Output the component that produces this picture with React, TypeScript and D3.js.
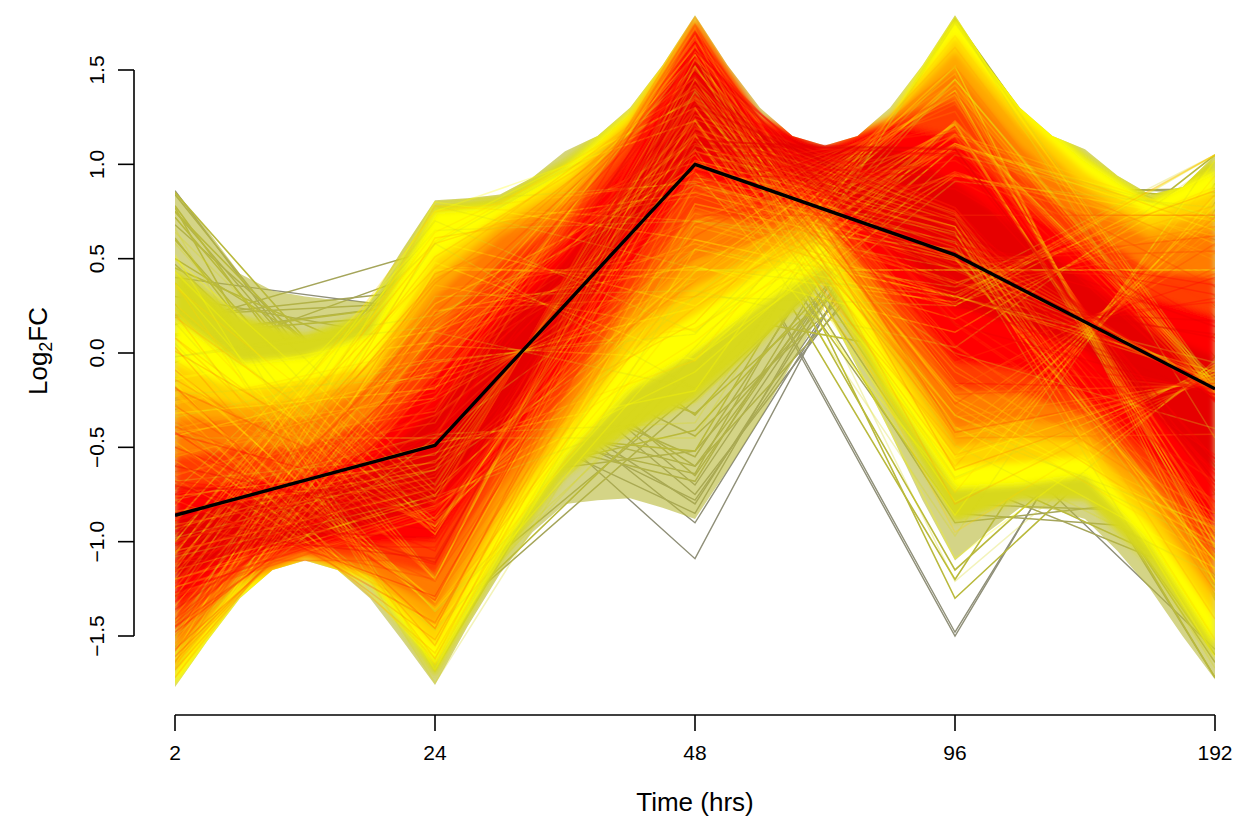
import React from "react";
import * as d3 from "d3";

// The bundle is far too dense to read single lines: each row below is a hand estimate
// [2h, 24h, 48h, 96h, 192h] chosen to reproduce the envelope and colour bands of the picture.
const timeLabels = ["2", "24", "48", "96", "192"];
const yTicks = [-1.5, -1, -0.5, 0, 0.5, 1, 1.5];
const yTickLabels = ["\u22121.5", "\u22121.0", "\u22120.5", "0.0", "0.5", "1.0", "1.5"];
const meanLine = [-0.86, -0.49, 1.0, 0.52, -0.19];

const greyLines = [
  [-0.75,0.15,-1.09,1.5,0.19],[-0.9,0.2,-0.9,1.3,0.3],[-0.7,-0.2,-0.85,1.5,0.25],[-1.0,0.1,-0.8,1.35,0.35],
  [-1.2,-0.1,-0.78,1.2,0.7],[-0.2,-0.1,1.0,-1.5,0.8],[-0.25,-0.05,1.02,-1.48,0.76],[-0.85,0.45,-0.7,1.35,-0.25],
  [0.4,0.22,1.2,-0.25,-1.57],[-1.3,0.4,-0.75,1.05,0.6],[0.86,-0.98,0.9,0.4,-1.18],
];
const greyOliveLines = [
  [-0.63,-0.34,-0.64,1.76,-0.14],[0.19,0.34,0.72,0.51,-1.72],[0.84,-0.87,0.76,0.55,-1.3],[0.2,0.27,1.4,-0.66,-1.22],
  [-0.15,0.08,-0.13,1.51,-1.31],[0.47,-0.82,0.08,1.37,-1.1],[0.26,-1.35,-0.2,1.44,-0.15],[-0.96,-0.69,-0.52,1.05,0.72],
  [-0.86,0.62,-0.12,1.17,-0.97],[-1.51,0.24,-0.44,0.85,0.87],[-0.18,-1.46,-0.25,1.05,0.72],
  [-0.5,-0.35,-0.68,1.55,-0.02],[-0.6,0.5,-0.65,1.35,-0.6],[-1.45,0.3,-0.6,0.9,0.85],[-1.05,-0.25,-0.6,1.25,0.65],
  [-0.3,0.05,-0.55,1.55,-0.75],[0.1,0.27,0.85,0.42,-1.64],[0.75,-0.85,1.05,0.25,-1.2],[0.68,-0.55,1.15,-0.05,-1.23],
  [0.15,0.55,1.1,-0.85,-0.95],[0.3,0.05,1.3,-0.8,-0.85],[-0.05,0.45,1.25,-0.9,-0.75],
];
const oliveLines = [
  [-0.7,-0.39,-0.52,1.77,-0.16],[0.09,0.27,0.81,0.56,-1.72],[-0.24,0.02,-0.02,1.53,-1.29],[0.1,0.21,1.47,-0.58,-1.21],
  [-1.02,-0.73,-0.41,1.1,0.7],[0.72,-0.9,0.84,0.59,-1.28],[-1.64,0.38,0.22,-0.03,1.05],[-0.93,0.62,-0.01,1.2,-1.04],
  [-1.56,0.18,-0.32,0.89,0.83],[0.37,-0.86,0.18,1.39,-1.09],[-0.27,-1.47,-0.14,1.08,0.72],[-1.42,0.67,-0.33,1.22,-0.11],
  [-0.13,-0.08,1.52,-1.3,-0.02],[0.77,-1.68,0.61,0.4,-0.12],[0.61,-1.16,1.33,-0.73,-0.07],[0.75,-0.66,1.32,-0.39,-1.03],
  [-0.55,-0.25,1.1,-1.2,0.9],[-0.4,0.2,1.25,-1.15,0.1],[0.6,-0.95,0.8,0.75,-1.2],[0.5,-0.35,1.25,-0.15,-1.25],
  [0.85,-0.7,0.95,0.1,-1.2],[0.78,-1.1,0.55,0.85,-1.08],[0.45,-0.15,0.95,0.35,-1.6],
];
const oliveYellowLines = [
  [-0.78,-0.43,-0.37,1.75,-0.17],[-1.5,0.78,0.45,0.3,-0.05],[-0.98,-0.62,0.3,0.25,1.05],[-0.02,0.2,0.89,0.59,-1.67],
  [-1.47,0.58,-0.19,1.22,-0.13],[0.05,-1.37,0.03,1.45,-0.18],[-0.34,-0.04,0.1,1.52,-1.26],[-0.02,0.14,1.52,-0.49,-1.18],
  [-1.08,-0.76,-0.26,1.05,0.72],[-0.9,0.65,0.7,0.55,-1.1],[0.58,-0.92,0.93,0.63,-1.25],[-1.68,0.3,0.33,0.03,1.01],
  [-1.0,0.7,0.11,1.21,-1.02],[-1.6,0.11,-0.19,0.91,0.77],[0.24,-0.88,0.3,1.39,-1.07],[-0.73,0.58,1.35,-0.4,-0.92],
  [-0.37,-1.47,-0.01,1.09,0.72],[-0.22,-0.13,1.58,-1.21,-0.04],[0.66,-1.69,0.7,0.45,-0.14],[0.5,-1.19,1.39,-0.66,-0.09],
  [0.16,-1.37,-0.09,1.45,-0.16],[-0.68,-0.54,1.08,-0.97,1.05],[0.64,-0.7,1.38,-0.33,-1.03],
  [-0.45,-0.45,-0.45,1.78,-0.45],[0.44,-1.75,0.44,0.44,0.44],[-1.5,-0.45,0.55,0.35,1.05],[-1.3,0.8,0.9,0.0,-0.4],
];
const yellowLines = [
  [-0.86,-0.48,-0.2,1.73,-0.19],[-1.6,0.8,0.6,0.3,-0.1],[-1.05,-0.72,0.45,0.27,1.05],[-0.14,0.12,0.99,0.64,-1.61],
  [-1.51,0.48,-0.04,1.23,-0.15],[-0.08,-1.36,0.18,1.45,-0.2],[-0.44,-0.1,0.24,1.52,-1.22],[-0.13,0.06,1.58,-0.39,-1.14],
  [-1.15,-0.78,-0.1,1.1,0.72],[-1.0,0.65,0.85,0.5,-1.1],[0.43,-0.94,1.02,0.67,-1.21],[-1.71,0.22,0.46,0.11,0.93],
  [-1.06,0.59,0.25,1.22,-0.99],[-1.63,0.04,-0.03,0.94,0.7],[0.11,-0.9,0.43,1.39,-1.03],[-0.81,0.65,1.34,-0.33,-0.93],
  [-0.47,-1.45,0.14,1.11,0.65],[-0.32,-0.19,1.63,-1.09,-0.07],[0.52,-1.68,0.79,0.49,-0.16],[0.37,-1.2,1.45,-0.56,-0.11],
  [-1.15,0.75,1.23,-0.79,-0.06],[-0.76,-0.58,1.16,-0.86,1.02],[-0.16,-1.64,0.55,0.25,0.96],[-0.1,-1.32,1.15,-0.55,0.78],
  [0.5,-0.73,1.45,-0.25,-1.01],[-1.34,0.26,0.96,-0.73,0.83],[-1.75,0.44,0.44,0.44,0.44],
];
const goldLines = [
  [-0.93,-0.53,-0.04,1.68,-0.21],[-1.67,0.78,0.7,0.3,-0.13],[-1.2,-0.75,0.6,0.3,1.05],[-0.27,0.03,1.07,0.67,-1.52],
  [-1.54,0.36,0.12,1.22,-0.17],[-0.21,-1.35,0.32,1.42,-0.21],[-0.55,-0.18,0.38,1.48,-1.16],[-0.26,-0.03,1.62,-0.28,-1.09],
  [-1.2,-0.81,0.06,1.16,0.7],[-1.07,0.75,0.91,0.51,-1.1],[0.26,-0.96,1.1,0.7,-1.15],[-1.72,0.12,0.58,0.18,0.83],
  [-1.12,0.46,0.39,1.21,-0.95],[-1.65,-0.05,0.13,0.95,0.62],[-0.04,-0.92,0.55,1.37,-0.99],[-0.89,0.59,1.4,-0.23,-0.9],
  [-0.57,-1.43,0.28,1.11,0.58],[-0.42,-0.24,1.68,-0.95,-0.09],[0.37,-1.65,0.89,0.54,-0.17],[0.23,-1.2,1.52,-0.45,-0.13],
  [-1.2,0.64,1.3,-0.67,-0.08],[-0.84,-0.62,1.24,-0.74,0.94],[-0.28,-1.62,0.67,0.32,0.88],[-0.22,-1.31,1.23,-0.44,0.71],
  [0.35,-0.76,1.51,-0.16,-0.98],[-1.39,0.18,1.05,-0.61,0.75],
];
const amberLines = [
  [-1.0,-0.57,0.16,1.62,-0.22],[-1.67,0.61,0.83,0.38,-0.15],[-1.24,-0.87,0.74,0.29,1.05],[-0.4,-0.07,1.16,0.71,-1.41],
  [-1.55,0.23,0.3,1.21,-0.19],[-0.35,-1.31,0.48,1.39,-0.23],[-0.65,-0.25,0.53,1.44,-1.08],[-0.4,-0.12,1.66,-0.15,-1.02],
  [-1.24,-0.82,0.24,1.15,0.66],[-1.13,0.58,1.01,0.56,-1.03],[0.08,-0.96,1.19,0.74,-1.08],[-1.72,0.02,0.71,0.26,0.72],
  [-1.17,0.33,0.54,1.19,-0.89],[-1.65,-0.14,0.3,0.96,0.52],[-0.2,-0.92,0.69,1.34,-0.93],[-0.97,0.45,1.46,-0.1,-0.85],
  [-0.67,-1.39,0.44,1.1,0.49],[-0.53,-0.31,1.72,-0.8,-0.11],[0.21,-1.62,0.98,0.58,-0.19],[0.08,-1.2,1.56,-0.34,-0.15],
  [-1.25,0.51,1.36,-0.54,-0.11],[-0.91,-0.66,1.3,-0.6,0.84],[-0.39,-1.59,0.77,0.37,0.78],[-0.34,-1.3,1.29,-0.33,0.63],
  [0.19,-0.79,1.55,-0.07,-0.94],[-1.42,0.08,1.13,-0.49,0.67],
];
const orangeLines = [
  [-1.07,-0.6,0.38,1.52,-0.24],[-1.64,0.42,0.95,0.44,-0.18],[-1.27,-0.87,0.88,0.37,0.86],[-0.55,-0.17,1.24,0.73,-1.26],
  [-1.54,0.09,0.5,1.16,-0.21],[-0.5,-1.25,0.65,1.32,-0.24],[-0.77,-0.33,0.7,1.37,-0.98],[-0.54,-0.21,1.67,-0.01,-0.93],
  [-1.28,-0.83,0.45,1.11,0.53],[-1.17,0.39,1.11,0.6,-0.94],[-0.14,-0.94,1.26,0.75,-0.97],[-1.68,-0.1,0.86,0.35,0.57],
  [-1.22,0.17,0.71,1.15,-0.82],[-1.63,-0.23,0.5,0.95,0.41],[-0.37,-0.91,0.83,1.28,-0.85],[-1.04,0.27,1.5,0.03,-0.78],
  [-0.78,-1.31,0.62,1.07,0.38],[-0.64,-0.37,1.74,-0.62,-0.14],[0.03,-1.55,1.07,0.62,-0.21],[-0.09,-1.17,1.6,-0.21,-0.17],
  [-1.29,0.37,1.42,-0.39,-0.13],[-0.99,-0.69,1.37,-0.44,0.72],[-0.51,-1.52,0.89,0.44,0.67],[-0.47,-1.27,1.36,-0.19,0.53],
  [0.01,-0.8,1.6,0.04,-0.88],[-1.44,-0.02,1.21,-0.34,0.57],[-0.45,-0.45,1.78,-0.45,-0.43],
];
const redOrangeLines = [
  [-1.12,-0.64,0.62,1.38,-0.25],[-1.58,0.17,1.07,0.52,-0.2],[-1.29,-0.85,1.02,0.47,0.62],[-0.71,-0.29,1.3,0.75,-1.06],
  [-1.5,-0.09,0.71,1.09,-0.22],[-0.68,-1.14,0.84,1.22,-0.25],[-0.89,-0.42,0.87,1.26,-0.84],[-0.71,-0.33,1.64,0.16,-0.79],
  [-1.29,-0.81,0.68,1.06,0.35],[-1.21,0.15,1.2,0.65,-0.8],[-0.39,-0.9,1.32,0.77,-0.83],[-1.61,-0.24,1.0,0.45,0.39],
  [-1.24,-0.02,0.88,1.09,-0.71],[-1.57,-0.34,0.72,0.92,0.26],[-0.57,-0.88,0.98,1.18,-0.73],[-1.1,0.06,1.51,0.2,-0.68],
  [-0.9,-1.2,0.81,1.02,0.24],[-0.75,-0.44,1.74,-0.42,-0.16],[-0.18,-1.46,1.17,0.66,-0.22],[-0.28,-1.13,1.62,-0.06,-0.19],
  [-1.32,0.21,1.47,-0.22,-0.16],[-1.05,-0.71,1.42,-0.27,0.58],[-0.65,-1.43,1.01,0.5,0.54],[-0.6,-1.21,1.41,-0.05,0.42],
  [-0.19,-0.81,1.62,0.15,-0.81],[-1.45,-0.13,1.29,-0.18,0.45],[-1.1,-1.1,0.73,0.73,0.73],
];
const redLines = [
  [-1.16,-0.66,0.89,1.17,-0.26],[-1.46,-0.13,1.19,0.6,-0.23],[-1.27,-0.8,1.16,0.57,0.31],[-0.89,-0.44,1.34,0.75,-0.79],
  [-1.41,-0.3,0.96,0.98,-0.24],[-0.87,-1.0,1.04,1.06,-0.26],[-1.01,-0.52,1.06,1.08,-0.65],[-0.89,-0.46,1.57,0.37,-0.62],
  [-1.27,-0.78,0.93,0.95,0.14],[-1.22,-0.15,1.28,0.69,-0.62],[-0.68,-0.84,1.36,0.77,-0.64],[-1.48,-0.4,1.14,0.55,0.16],
  [-1.24,-0.26,1.07,0.97,-0.56],[-1.45,-0.47,0.96,0.87,0.08],[-0.8,-0.82,1.13,1.04,-0.58],[-1.15,-0.21,1.48,0.39,-0.54],
  [-1.01,-1.03,1.02,0.93,0.06],[-0.88,-0.5,1.7,-0.16,-0.19],[-0.42,-1.31,1.25,0.7,-0.24],[-0.5,-1.05,1.61,0.13,-0.22],
  [-1.32,0.0,1.48,0.0,-0.19],[-1.11,-0.72,1.45,-0.04,0.4],[-0.79,-1.29,1.12,0.57,0.36],[-0.76,-1.12,1.44,0.13,0.27],
  [-0.43,-0.8,1.6,0.3,-0.7],[-1.43,-0.26,1.34,0.04,0.29],
];
const deepRedLines = [
  [-1.0,-0.58,1.61,0.15,-0.22],[-0.7,-1.11,1.31,0.72,-0.25],[-0.75,-0.94,1.54,0.34,-0.24],[-1.29,-0.24,1.46,0.26,-0.22],
  [-1.15,-0.72,1.44,0.24,0.17],[-0.94,-1.09,1.22,0.63,0.14],[-0.92,-0.98,1.43,0.35,0.08],[-0.71,-0.77,1.54,0.45,-0.56],
  [-1.36,-0.42,1.37,0.28,0.1],[-1.14,-0.65,1.32,0.69,-0.25],[-0.72,-0.73,1.09,1.09,-0.73],[-0.95,-0.55,1.12,1.08,-0.7],
  [-0.6,-0.9,1.1,1.08,-0.68],[-0.85,-0.65,1.13,1.05,-0.68],
];

// Outer edge of the whole bundle, read at 33 evenly spaced stations.
const hullUpper = [0.86,0.65,0.42,0.33,0.3,0.28,0.27,0.55,0.81,0.82,0.84,0.93,1.07,1.15,1.3,1.525,1.79,1.525,1.3,1.15,1.1,1.15,1.3,1.525,1.79,1.525,1.3,1.15,1.08,0.94,0.84,0.88,1.05];
const hullLower = [-1.77,-1.525,-1.3,-1.15,-1.1,-1.15,-1.3,-1.525,-1.76,-1.45,-1.17,-0.95,-0.8,-0.78,-0.77,-0.82,-0.88,-0.62,-0.35,-0.05,0.25,-0.08,-0.42,-0.78,-1.1,-0.95,-0.82,-0.83,-0.88,-1.05,-1.25,-1.5,-1.73];

// Upper and lower limit of each colour zone, read at 17 evenly spaced stations across the plot.
const oliveYellowUpper = [0.45,0.2,0.1,0.22,0.79,0.83,1.03,1.29,1.79,1.26,1.1,1.26,1.79,1.33,1.06,0.83,1.03];
const oliveYellowLower = [-1.77,-1.3,-1.1,-1.22,-1.72,-1.12,-0.65,-0.42,-0.25,0.05,0.38,-0.3,-0.9,-0.78,-0.78,-1.12,-1.62];
const yellowUpper = [0.18,-0.05,-0.02,0.1,0.75,0.78,0.98,1.28,1.79,1.26,1.1,1.26,1.78,1.32,1.03,0.8,0.97];
const yellowLower = [-1.77,-1.3,-1.1,-1.22,-1.65,-1.05,-0.55,-0.2,0.0,0.25,0.47,-0.2,-0.72,-0.7,-0.65,-1.02,-1.55];
const goldUpper = [-0.05,-0.2,-0.15,-0.06,0.5,0.73,0.93,1.25,1.78,1.26,1.1,1.25,1.68,1.27,0.96,0.73,0.86];
const goldLower = [-1.7,-1.25,-1.09,-1.2,-1.55,-0.92,-0.45,0.0,0.2,0.42,0.58,-0.05,-0.6,-0.58,-0.55,-0.92,-1.4];
const amberUpper = [-0.2,-0.28,-0.25,-0.12,0.4,0.68,0.87,1.22,1.78,1.26,1.1,1.25,1.6,1.2,0.88,0.66,0.75];
const amberLower = [-1.6,-1.22,-1.09,-1.18,-1.45,-0.84,-0.38,0.1,0.35,0.52,0.63,0.03,-0.5,-0.45,-0.47,-0.82,-1.3];
const orangeUpper = [-0.35,-0.35,-0.35,-0.17,0.3,0.62,0.8,1.18,1.77,1.26,1.1,1.25,1.5,1.1,0.81,0.6,0.65];
const orangeLower = [-1.55,-1.2,-1.08,-1.16,-1.35,-0.75,-0.3,0.2,0.5,0.6,0.68,0.1,-0.4,-0.35,-0.4,-0.72,-1.22];
const redOrangeUpper = [-0.55,-0.5,-0.5,-0.35,0.1,0.49,0.72,1.13,1.75,1.25,1.1,1.24,1.35,0.95,0.68,0.44,0.4];
const redOrangeLower = [-1.42,-1.15,-1.06,-1.1,-1.18,-0.65,-0.22,0.3,0.75,0.68,0.72,0.25,-0.2,-0.22,-0.33,-0.65,-1.1];
const redUpper = [-0.72,-0.67,-0.65,-0.5,-0.1,0.31,0.6,1.05,1.72,1.24,1.1,1.22,1.15,0.8,0.55,0.3,0.2];
const redLower = [-1.35,-1.1,-1.03,-1.02,-1.0,-0.55,-0.1,0.42,0.95,0.78,0.78,0.38,-0.05,-0.1,-0.25,-0.55,-0.95];
const deepRedUpper = [-0.85,-0.78,-0.75,-0.6,-0.3,0.17,0.48,0.9,1.55,1.18,1.09,1.1,0.9,0.65,0.39,0.12,-0.02];
const deepRedLower = [-1.2,-1.05,-1.0,-0.92,-0.8,-0.4,0.12,0.6,1.05,0.92,0.85,0.6,0.25,0.15,0.02,-0.3,-0.65];

const bandUppers = [oliveYellowUpper, yellowUpper, goldUpper, amberUpper, orangeUpper, redOrangeUpper, redUpper, deepRedUpper];
const bandLowers = [oliveYellowLower, yellowLower, goldLower, amberLower, orangeLower, redOrangeLower, redLower, deepRedLower];
const bandColors = ["#d8d81c", "#ffff00", "#ffd400", "#ffa800", "#ff7c00", "#ff3c00", "#ff0000", "#e60000"];

const underLayers = [greyLines, greyOliveLines, oliveLines];
const underColors = ["#8f8f78", "#a5a55a", "#b9b93c"];
const underWidths = [1.4, 1.5, 1.6];
const overLayers = [oliveYellowLines, yellowLines, goldLines, amberLines, orangeLines, redOrangeLines, redLines, deepRedLines];
const overColors = ["#d8d81c", "#ffff00", "#ffd400", "#ffa800", "#ff7c00", "#ff3c00", "#ff0000", "#e60000"];
const overWidths = [1.5, 1.5, 1.5, 1.5, 1.5, 1.6, 1.6, 1.7];

const W = 1237;
const H = 821;
const font = "'Liberation Sans', Arial, sans-serif";

export default function App() {
  const x = d3.scalePoint<string>().domain(timeLabels).range([175, 1215]);
  const xStation = (count: number) => d3.scaleLinear().domain([0, count - 1]).range([175, 1215]);
  const y = d3.scaleLinear().domain([-1.5, 1.5]).range([636, 70]);
  const line = d3
    .line<number>()
    .x((_, i) => x(timeLabels[i]) as number)
    .y((d) => y(d));
  const band = (upper: number[], lower: number[]) => {
    const xs = xStation(upper.length);
    return d3
      .area<number>()
      .x((_, i) => xs(i))
      .y0((_, i) => y(lower[i]))
      .y1((d) => y(d))(upper) as string;
  };

  return (
    <svg width={W} height={H} viewBox={`0 0 ${W} ${H}`} style={{ position: "absolute", left: 0, top: 0 }} fontFamily={font}>
      <defs>
        <clipPath id="plot">
          <rect x={175} y={0} width={1040} height={H} />
        </clipPath>
        <clipPath id="hull">
          <path d={band(hullUpper, hullLower)} />
        </clipPath>
        <filter id="soft" x="-5%" y="-5%" width="110%" height="110%">
          <feGaussianBlur stdDeviation="3" />
        </filter>
      </defs>
      <g clipPath="url(#plot)" fill="none" strokeLinejoin="miter">
        {underLayers.map((rows, k) =>
          rows.map((r, i) => (
            <path key={`u${k}-${i}`} d={line(r) as string} stroke={underColors[k]} strokeWidth={underWidths[k]} />
          ))
        )}
        <path d={band(hullUpper, hullLower)} fill="#b9b93c" opacity={0.62} stroke="none" />
        <g clipPath="url(#hull)">
          <g filter="url(#soft)">
            {bandColors.map((c, k) => (
              <path key={c} d={band(bandUppers[k], bandLowers[k])} fill={c} stroke="none" />
            ))}
          </g>
        </g>
        {overLayers.map((rows, k) =>
          rows.map((r, i) => (
            <path key={`o${k}-${i}`} d={line(r) as string} stroke={overColors[k]} strokeWidth={overWidths[k]} opacity={0.3} />
          ))
        )}
        <path d={line(meanLine) as string} stroke="#000" strokeWidth={3.4} strokeLinejoin="round" />
      </g>

      <line x1={134} x2={134} y1={y(-1.5)} y2={y(1.5)} stroke="#000" strokeWidth={1.6} />
      {yTicks.map((t, i) => (
        <g key={t}>
          <line x1={118} x2={134} y1={y(t)} y2={y(t)} stroke="#000" strokeWidth={1.6} />
          <text transform={`translate(104,${y(t)}) rotate(-90)`} textAnchor="middle" fontSize={21}>
            {yTickLabels[i]}
          </text>
        </g>
      ))}
      <line x1={175} x2={1215} y1={715} y2={715} stroke="#000" strokeWidth={1.6} />
      {timeLabels.map((t) => (
        <g key={t}>
          <line x1={x(t)} x2={x(t)} y1={715} y2={731} stroke="#000" strokeWidth={1.6} />
          <text x={x(t)} y={760} textAnchor="middle" fontSize={21}>
            {t}
          </text>
        </g>
      ))}
      <text x={695} y={811} textAnchor="middle" fontSize={26}>
        Time (hrs)
      </text>
      <text transform="translate(47,351) rotate(-90)" textAnchor="middle" fontSize={26}>
        Log
        <tspan fontSize={18} dy={5}>2</tspan>
        <tspan dy={-5}>FC</tspan>
      </text>
    </svg>
  );
}
